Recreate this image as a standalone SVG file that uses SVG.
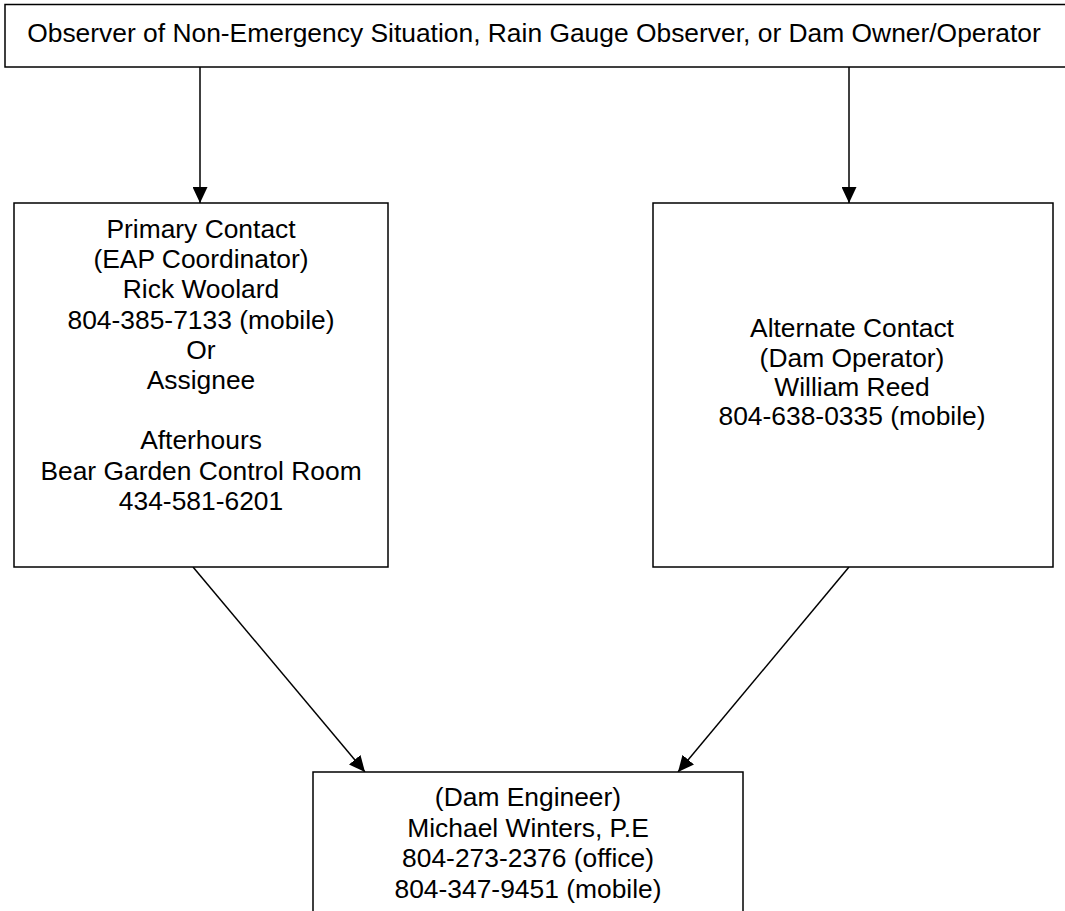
<svg xmlns="http://www.w3.org/2000/svg" width="1065" height="911" viewBox="0 0 1065 911">
<defs>
<style>
.box{fill:#fff;stroke:#000;stroke-width:1.5}
.t{font-family:"Liberation Sans",Arial,sans-serif;font-size:26.4px;fill:#000;text-anchor:middle}
.c{stroke:#000;stroke-width:1.5;fill:none}
</style>
<marker id="ah" markerWidth="16" markerHeight="15" refX="16" refY="7.5" orient="auto" markerUnits="userSpaceOnUse" viewBox="0 0 16 15">
<path d="M0,0 L16,7.5 L0,15 z" fill="#000"/>
</marker>
</defs>
<rect width="1065" height="911" fill="#fff"/>
<g id="connectors">
<line class="c" x1="200" y1="67" x2="200" y2="203" marker-end="url(#ah)"/>
<line class="c" x1="849" y1="67" x2="849" y2="203" marker-end="url(#ah)"/>
<line class="c" x1="193" y1="567" x2="365" y2="772" marker-end="url(#ah)"/>
<line class="c" x1="849" y1="567" x2="678" y2="772" marker-end="url(#ah)"/>
</g>
<g id="observer">
<rect class="box" x="5" y="4.5" width="1065" height="62.5"/>
<text class="t" x="534" y="42">Observer of Non-Emergency Situation, Rain Gauge Observer, or Dam Owner/Operator</text>
</g>
<g id="primary">
<rect class="box" x="14" y="203" width="374" height="364"/>
<text class="t" x="201" y="238">Primary Contact</text>
<text class="t" x="201" y="268.2">(EAP Coordinator)</text>
<text class="t" x="201" y="298.4">Rick Woolard</text>
<text class="t" x="201" y="328.6">804-385-7133 (mobile)</text>
<text class="t" x="201" y="358.8">Or</text>
<text class="t" x="201" y="389">Assignee</text>
<text class="t" x="201" y="449.4">Afterhours</text>
<text class="t" x="201" y="479.6">Bear Garden Control Room</text>
<text class="t" x="201" y="509.8">434-581-6201</text>
</g>
<g id="alternate">
<rect class="box" x="653" y="203" width="400" height="364"/>
<text class="t" x="852" y="337">Alternate Contact</text>
<text class="t" x="852" y="367">(Dam Operator)</text>
<text class="t" x="852" y="396">William Reed</text>
<text class="t" x="852" y="425">804-638-0335 (mobile)</text>
</g>
<g id="engineer">
<rect class="box" x="313" y="772" width="430" height="160"/>
<text class="t" x="528" y="806">(Dam Engineer)</text>
<text class="t" x="528" y="836.5">Michael Winters, P.E</text>
<text class="t" x="528" y="867">804-273-2376 (office)</text>
<text class="t" x="528" y="897.5">804-347-9451 (mobile)</text>
</g>
</svg>
